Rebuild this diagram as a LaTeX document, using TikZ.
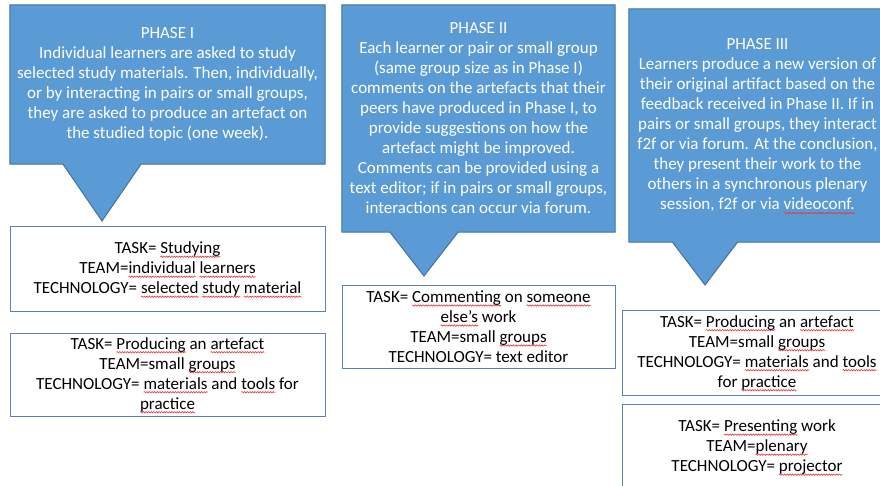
\documentclass[tikz,border=0pt]{standalone}
\usepackage{fontspec}
\setmainfont{Carlito}
\usetikzlibrary{backgrounds,calc,decorations.pathmorphing}

\definecolor{phaseblue}{HTML}{5B9BD5}
\definecolor{phaseedge}{HTML}{41719C}
\definecolor{boxedge}{HTML}{5A80B0}
\definecolor{spellred}{HTML}{E53935}

% red wavy spell-check mark under a word
\tikzset{spell/.style={draw=spellred, fill=none, line width=0.6pt, decorate,
    decoration={snake, amplitude=0.7pt, segment length=2.6pt}}}
\newcommand{\sq}[1]{\setbox0\hbox{#1}%
  \tikz[overlay, baseline=0pt, x=1pt, y=1pt]{\pgftransformreset
    \draw[spell] (0,-3.2) -- (\the\wd0,-3.2);}\box0\relax}

\begin{document}
\begin{tikzpicture}[x=1pt, y=-1pt,
    phase/.style={text=white, align=center, inner sep=0pt, font=\fontsize{17}{20}\selectfont},
    callout/.style={fill=phaseblue, draw=phaseedge, line width=1pt},
    taskbox/.style={draw=boxedge, fill=white, line width=1pt, align=center, inner sep=0pt,
      font=\fontsize{17}{20}\selectfont}]
  \useasboundingbox (0,0) rectangle (880,486);

  % phase callouts
  \node[phase, minimum width=315pt, minimum height=159pt] (p1) at (167.5,84.5)
    {PHASE I\\Individual learners are asked to study\\selected study materials. Then, individually,\\
     or by interacting in pairs or small groups,\\they are asked to produce an artefact on\\
     the studied topic (one week).};
  \coordinate (p1tip) at (102,221);

  \node[phase, minimum width=273pt, minimum height=227pt] (p2) at (478.5,118.5)
    {PHASE II\\Each learner or pair or small group\\(same group size as in Phase I)\\
     comments on the artefacts that their\\peers have produced in Phase I, to\\
     provide suggestions on how the\\artefact might be improved.\\
     Comments can be provided using a\\text editor; if in pairs or small groups,\\
     interactions can occur via forum.};
  \coordinate (p2tip) at (424,276);

  \node[phase, minimum width=257pt, minimum height=233pt] (p3) at (757.5,125.5)
    {PHASE III\\Learners produce a new version of\\their original artifact based on the\\
     feedback received in Phase II. If in\\pairs or small groups, they interact\\
     f2f or via forum. At the conclusion,\\they present their work to the\\
     others in a synchronous plenary\\session, f2f or via \sq{videoconf.}};
  \coordinate (p3tip) at (705,285);

  \begin{scope}[on background layer]
    \draw[callout] (p1.north west) -- (p1.north east) -- (p1.south east)
      -- ($(p1tip |- p1.south)+(39,0)$) -- (p1tip) -- ($(p1tip |- p1.south)+(-39,0)$)
      -- (p1.south west) -- cycle;
    \draw[callout] (p2.north west) -- (p2.north east) -- (p2.south east)
      -- ($(p2tip |- p2.south)+(34,0)$) -- (p2tip) -- ($(p2tip |- p2.south)+(-34,0)$)
      -- (p2.south west) -- cycle;
    \draw[callout] (p3.north west) -- (p3.north east) -- (p3.south east)
      -- ($(p3tip |- p3.south)+(32.5,0)$) -- (p3tip) -- ($(p3tip |- p3.south)+(-32.5,0)$)
      -- (p3.south west) -- cycle;
  \end{scope}

  % task / team / technology boxes
  \node[taskbox, minimum width=315pt, minimum height=84pt] (t1a) at (167.5,269)
    {TASK= \sq{Studying}\\TEAM=\sq{individual} \sq{learners}\\
     TECHNOLOGY= \sq{selected} \sq{study} \sq{material}};
  \node[taskbox, minimum width=315pt, minimum height=83pt] (t1b) at (167.5,374.5)
    {TASK= \sq{Producing} an \sq{artefact}\\TEAM=small \sq{groups}\\
     TECHNOLOGY= \sq{materials} and \sq{tools} for\\\sq{practice}};
  \node[taskbox, minimum width=273pt, minimum height=83pt] (t2) at (478.5,326.5)
    {TASK= \sq{Commenting} on \sq{someone}\\\sq{else’s} work\\TEAM=small \sq{groups}\\
     TECHNOLOGY= text editor};
  \node[taskbox, minimum width=270pt, minimum height=85pt] (t3a) at (757,352.5)
    {TASK= \sq{Producing} an \sq{artefact}\\TEAM=small \sq{groups}\\
     TECHNOLOGY= \sq{materials} and \sq{tools}\\for \sq{practice}};
  \node[taskbox, minimum width=270pt, minimum height=86pt] (t3b) at (757,447)
    {TASK= \sq{Presenting} work\\TEAM=\sq{plenary}\\TECHNOLOGY= \sq{projector}};
\end{tikzpicture}
\end{document}
